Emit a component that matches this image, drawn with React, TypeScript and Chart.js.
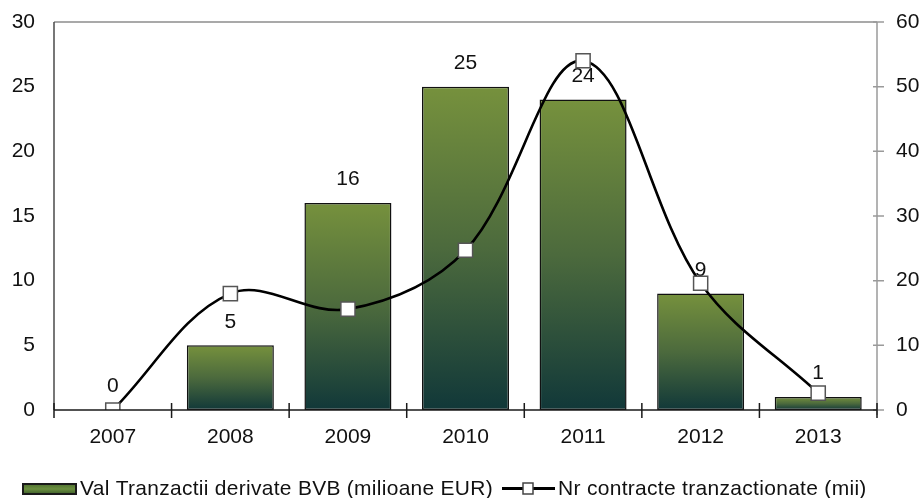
import React, { useEffect, useRef } from 'react';
import { Chart, registerables } from 'chart.js';

Chart.register(...registerables);

const years = ['2007', '2008', '2009', '2010', '2011', '2012', '2013'];
const valTranzactii = [0, 5, 16, 25, 24, 9, 1];
const nrContracte = [0, 18, 15.6, 24.7, 54, 19.6, 2.6];
const barLabel = 'Val Tranzactii derivate BVB (milioane EUR)';
const lineLabel = 'Nr contracte tranzactionate (mii)';

const FONT = '"Liberation Sans", Arial, sans-serif';
const FS = 21;

const framePlugin = {
  id: 'frame',
  beforeDatasetsDraw(chart: any) {
    const { ctx, chartArea: a, scales } = chart;
    ctx.save();
    ctx.strokeStyle = '#8c8c8c';
    ctx.lineWidth = 1.5;
    ctx.beginPath();
    ctx.moveTo(a.left, a.top);
    ctx.lineTo(a.right, a.top);
    ctx.stroke();
    ctx.strokeStyle = '#9a9a9a';
    ctx.beginPath();
    ctx.moveTo(a.right, a.top);
    ctx.lineTo(a.right, a.bottom + 5);
    const y1 = scales.y1;
    y1.ticks.forEach((t: any) => {
      const py = y1.getPixelForValue(t.value);
      ctx.moveTo(a.right - 4, py);
      ctx.lineTo(a.right + 7, py);
    });
    ctx.stroke();
    ctx.strokeStyle = '#4a4a4a';
    ctx.beginPath();
    ctx.moveTo(a.left, a.top);
    ctx.lineTo(a.left, a.bottom);
    ctx.stroke();
    ctx.restore();
  },
  afterDraw(chart: any) {
    const { ctx, chartArea: a, scales } = chart;
    ctx.save();
    ctx.strokeStyle = '#1a1a1a';
    ctx.lineWidth = 1.5;
    ctx.beginPath();
    ctx.moveTo(a.left, a.bottom);
    ctx.lineTo(a.right, a.bottom);
    const x = scales.x;
    const n = years.length;
    const w = (x.right - x.left) / n;
    for (let i = 0; i <= n; i++) {
      const px = x.left + i * w;
      ctx.moveTo(px, a.bottom - 7);
      ctx.lineTo(px, a.bottom + 8);
    }
    ctx.stroke();

    const baseY = 495;
    const g = ctx.createLinearGradient(0, 484, 0, 494);
    g.addColorStop(0, '#4f7030');
    g.addColorStop(0.5, '#6b8f3f');
    g.addColorStop(1, '#3f5f2c');
    ctx.fillStyle = g;
    ctx.fillRect(23, 484, 53, 10);
    ctx.strokeStyle = '#1a1a1a';
    ctx.lineWidth = 2;
    ctx.strokeRect(23, 484, 53, 10);

    ctx.font = `${FS}px ${FONT}`;
    try { (ctx as any).letterSpacing = '0.3px'; } catch (e) { /* ignore */ }
    ctx.fillStyle = '#111';
    ctx.textAlign = 'left';
    ctx.textBaseline = 'alphabetic';
    ctx.fillText(barLabel, 80, baseY, 413);

    ctx.strokeStyle = '#000';
    ctx.lineWidth = 3;
    ctx.beginPath();
    ctx.moveTo(502, 488.5);
    ctx.lineTo(555, 488.5);
    ctx.stroke();
    ctx.fillStyle = '#fff';
    ctx.fillRect(523, 483, 10, 11);
    ctx.strokeStyle = '#444';
    ctx.lineWidth = 1.5;
    ctx.strokeRect(523, 483, 10, 11);

    ctx.fillStyle = '#111';
    ctx.fillText(lineLabel, 558, baseY, 309);
    try { (ctx as any).letterSpacing = '0px'; } catch (e) { /* ignore */ }
    ctx.restore();
  },
  afterDatasetDraw(chart: any, args: any) {
    if (args.meta.type !== 'bar') return;
    const { ctx } = chart;
    ctx.save();
    ctx.font = `${FS}px ${FONT}`;
    ctx.fillStyle = '#111';
    ctx.textAlign = 'center';
    ctx.textBaseline = 'middle';
    args.meta.data.forEach((el: any, i: number) => {
      ctx.fillText(String(valTranzactii[i]), el.x, el.y - 23.5);
    });
    ctx.restore();
  },
};

const fixVertical = (width: number) => (s: any) => {
  s.width = width;
  s.paddingTop = 10;
  s.paddingBottom = 10;
};

export default function App() {
  const ref = useRef<HTMLCanvasElement | null>(null);

  useEffect(() => {
    if (!ref.current) return;
    const chart = new Chart(ref.current, {
      type: 'bar',
      data: {
        labels: years,
        datasets: [
          {
            type: 'line',
            label: lineLabel,
            data: nrContracte,
            yAxisID: 'y1',
            order: 0,
            borderColor: '#000',
            borderWidth: 2.6,
            tension: 0.36,
            pointStyle: 'rect',
            pointRadius: 10,
            pointBackgroundColor: '#fff',
            pointBorderColor: '#555',
            pointBorderWidth: 1.5,
            fill: false,
          } as any,
          {
            type: 'bar',
            label: barLabel,
            data: valTranzactii,
            yAxisID: 'y',
            order: 1,
            borderColor: '#111',
            borderWidth: 1.5,
            borderSkipped: false,
            categoryPercentage: 1,
            barPercentage: 0.74,
            backgroundColor: (c: any) => {
              const chart = c.chart;
              if (!chart.chartArea || c.type !== 'data') return '#5a7a33';
              const y = chart.scales.y;
              const v = c.raw as number;
              const top = y.getPixelForValue(v);
              const bottom = y.getPixelForValue(0);
              if (bottom - top < 1) return '#5a7a33';
              const g = chart.ctx.createLinearGradient(0, top, 0, bottom);
              g.addColorStop(0, '#76913d');
              g.addColorStop(0.5, '#4c6a3d');
              g.addColorStop(1, '#113839');
              return g;
            },
          } as any,
        ],
      },
      options: {
        responsive: false,
        animation: false,
        layout: { padding: { top: 22, left: 0, right: 0, bottom: 0 } },
        plugins: {
          legend: { display: false },
          tooltip: { enabled: false },
        },
        scales: {
          x: {
            offset: true,
            grid: { display: false, drawTicks: false },
            border: { display: false },
            ticks: {
              color: '#111',
              font: { family: FONT, size: FS },
              padding: 15,
              maxRotation: 0,
            },
            afterFit: (s: any) => {
              s.height = 88;
            },
          },
          y: {
            position: 'left',
            min: 0,
            max: 30,
            grid: { display: false, drawTicks: false },
            border: { display: false },
            ticks: {
              stepSize: 5,
              color: '#111',
              font: { family: FONT, size: FS },
              padding: 19,
            },
            afterFit: fixVertical(54),
          },
          y1: {
            position: 'right',
            min: 0,
            max: 60,
            grid: { display: false, drawTicks: false },
            border: { display: false },
            ticks: {
              stepSize: 10,
              color: '#111',
              font: { family: FONT, size: FS },
              padding: 19,
            },
            afterFit: fixVertical(46),
          },
        },
      },
      plugins: [framePlugin],
    });
    return () => chart.destroy();
  }, []);

  return (
    <div style={{ position: 'fixed', left: 0, top: 0, width: 923, height: 498, background: '#fff' }}>
      <canvas ref={ref} width={923} height={498} style={{ display: 'block' }} />
    </div>
  );
}
